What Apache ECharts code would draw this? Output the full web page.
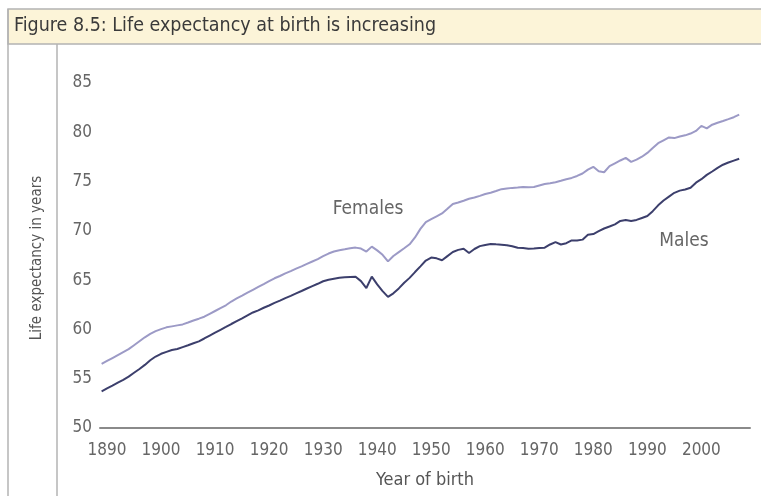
<!DOCTYPE html>
<html>
<head>
<meta charset="utf-8">
<title>Figure 8.5: Life expectancy at birth is increasing</title>
<script src="https://cdn.jsdelivr.net/npm/echarts@6/dist/echarts.min.js"></script>
<style>
  html, body { margin: 0; padding: 0; background: #ffffff; }
  #chart { width: 761px; height: 496px; }
</style>
</head>
<body>
<div id="chart"></div>
<script>
// Year of birth, 1889-2007
const years = [];
for (let y = 1889; y <= 2007; y++) years.push(y);

// Life expectancy at birth (years), females
const females = [
  56.50, 56.80, 57.10, 57.40, 57.70, 58.00, 58.40, 58.80, 59.20, 59.55,
  59.83, 60.03, 60.21, 60.31, 60.41, 60.51, 60.70, 60.90, 61.09, 61.29,
  61.58, 61.87, 62.16, 62.45, 62.83, 63.14, 63.43, 63.73, 64.02, 64.31,
  64.60, 64.90, 65.19, 65.42, 65.68, 65.91, 66.16, 66.40, 66.65, 66.89,
  67.13, 67.43, 67.70, 67.91, 68.04, 68.13, 68.23, 68.30, 68.20, 67.90,
  68.40, 68.02, 67.57, 66.90, 67.45, 67.84, 68.23, 68.64, 69.33, 70.20,
  70.89, 71.19, 71.48, 71.77, 72.24, 72.73, 72.88, 73.06, 73.26, 73.38,
  73.55, 73.74, 73.87, 74.04, 74.23, 74.30, 74.36, 74.40, 74.46, 74.42,
  74.45, 74.60, 74.75, 74.84, 74.94, 75.08, 75.24, 75.37, 75.57, 75.82,
  76.21, 76.50, 76.05, 75.95, 76.56, 76.85, 77.14, 77.40, 77.00, 77.22,
  77.52, 77.91, 78.40, 78.89, 79.19, 79.48, 79.41, 79.58, 79.69, 79.87,
  80.14, 80.65, 80.40, 80.77, 80.97, 81.14, 81.33, 81.53, 81.79
];

// Life expectancy at birth (years), males
const males = [
  53.72, 54.01, 54.30, 54.60, 54.89, 55.21, 55.60, 55.99, 56.40, 56.87,
  57.25, 57.53, 57.72, 57.91, 58.01, 58.21, 58.40, 58.60, 58.79, 59.08,
  59.38, 59.67, 59.96, 60.25, 60.55, 60.84, 61.13, 61.43, 61.72, 61.94,
  62.20, 62.43, 62.69, 62.92, 63.18, 63.41, 63.66, 63.90, 64.15, 64.39,
  64.63, 64.89, 65.04, 65.14, 65.24, 65.30, 65.33, 65.34, 64.90, 64.20,
  65.35, 64.57, 63.88, 63.30, 63.66, 64.16, 64.74, 65.23, 65.82, 66.40,
  66.99, 67.29, 67.21, 67.02, 67.44, 67.85, 68.07, 68.18, 67.75, 68.16,
  68.45, 68.57, 68.67, 68.63, 68.60, 68.54, 68.44, 68.28, 68.26, 68.19,
  68.20, 68.25, 68.29, 68.62, 68.85, 68.62, 68.75, 69.03, 69.03, 69.11,
  69.60, 69.68, 69.97, 70.24, 70.44, 70.66, 71.01, 71.09, 71.01, 71.11,
  71.31, 71.51, 72.00, 72.59, 73.08, 73.47, 73.86, 74.08, 74.19, 74.37,
  74.89, 75.24, 75.68, 76.02, 76.39, 76.71, 76.93, 77.13, 77.32
];

// Axis tick values
const xTicks = [1890, 1900, 1910, 1920, 1930, 1940, 1950, 1960, 1970, 1980, 1990, 2000];
const yTicks = [50, 55, 60, 65, 70, 75, 80, 85];

const titleText = 'Figure 8.5: Life expectancy at birth is increasing';
const femaleColor = '#9c9ac6';
const maleColor = '#3c3f6c';
const textFont = '"Liberation Sans Narrow", "DejaVu Sans Condensed", "Open Sans", sans-serif';

const chart = echarts.init(document.getElementById('chart'), null, { renderer: 'canvas' });

const toPairs = (vals) => vals.map((v, i) => [years[i], v]);

chart.setOption({
  animation: false,
  backgroundColor: '#ffffff',
  grid: {
    left: 100, right: 11, top: 83, bottom: 68,
    containLabel: false,
    outerBoundsMode: 'none'
  },
  xAxis: {
    type: 'value',
    min: 1888.7,
    max: 2009,
    name: 'Year of birth',
    nameLocation: 'middle',
    nameGap: 43,
    nameTextStyle: { color: '#555555', fontSize: 18, fontFamily: textFont },
    axisLine: { show: true, lineStyle: { color: '#8a8a8a', width: 2 } },
    axisTick: { show: false },
    splitLine: { show: false },
    axisLabel: {
      color: '#666666', fontSize: 17, fontFamily: textFont, margin: 14,
      customValues: xTicks,
      formatter: (v) => String(v)
    }
  },
  yAxis: {
    type: 'value',
    min: 50,
    max: 85,
    interval: 5,
    axisLine: { show: false },
    axisTick: { show: false },
    splitLine: { show: false },
    axisLabel: {
      color: '#666666', fontSize: 17, fontFamily: textFont, margin: 8,
      formatter: (v) => (yTicks.indexOf(v) >= 0 ? String(v) : '')
    }
  },
  series: [
    {
      name: 'Females',
      type: 'line',
      data: toPairs(females),
      symbol: 'none',
      smooth: false,
      lineStyle: { color: femaleColor, width: 2 },
      z: 3
    },
    {
      name: 'Males',
      type: 'line',
      data: toPairs(males),
      symbol: 'none',
      smooth: false,
      lineStyle: { color: maleColor, width: 2 },
      z: 4
    }
  ],
  graphic: [
    // title band
    {
      type: 'rect', z: 0, silent: true,
      shape: { x: 8, y: 9, width: 760, height: 35 },
      style: { fill: '#fcf4d8', stroke: '#b3b3b3', lineWidth: 1.5 }
    },
    {
      type: 'text', z: 5, silent: true,
      left: 14, top: 16,
      style: { text: titleText, fill: '#3a3a3a', fontSize: 19.5, fontFamily: textFont }
    },
    // frame: left border and label column divider
    {
      type: 'line', z: 1, silent: true,
      shape: { x1: 8, y1: 9, x2: 8, y2: 496 },
      style: { stroke: '#b3b3b3', lineWidth: 1.5 }
    },
    {
      type: 'line', z: 1, silent: true,
      shape: { x1: 57, y1: 44, x2: 57, y2: 496 },
      style: { stroke: '#b3b3b3', lineWidth: 1.5 }
    },
    // y axis title
    {
      type: 'text', z: 5, silent: true,
      x: 37, y: 258, rotation: Math.PI / 2,
      style: {
        text: 'Life expectancy in years', fill: '#555555', fontSize: 15,
        fontFamily: textFont, align: 'center', verticalAlign: 'middle'
      }
    },
    // series labels
    {
      type: 'text', z: 5, silent: true,
      x: 368, y: 209,
      style: { text: 'Females', fill: '#666666', fontSize: 19, fontFamily: textFont, align: 'center', verticalAlign: 'middle' }
    },
    {
      type: 'text', z: 5, silent: true,
      x: 684, y: 241,
      style: { text: 'Males', fill: '#666666', fontSize: 19, fontFamily: textFont, align: 'center', verticalAlign: 'middle' }
    }
  ]
});
</script>
</body>
</html>
